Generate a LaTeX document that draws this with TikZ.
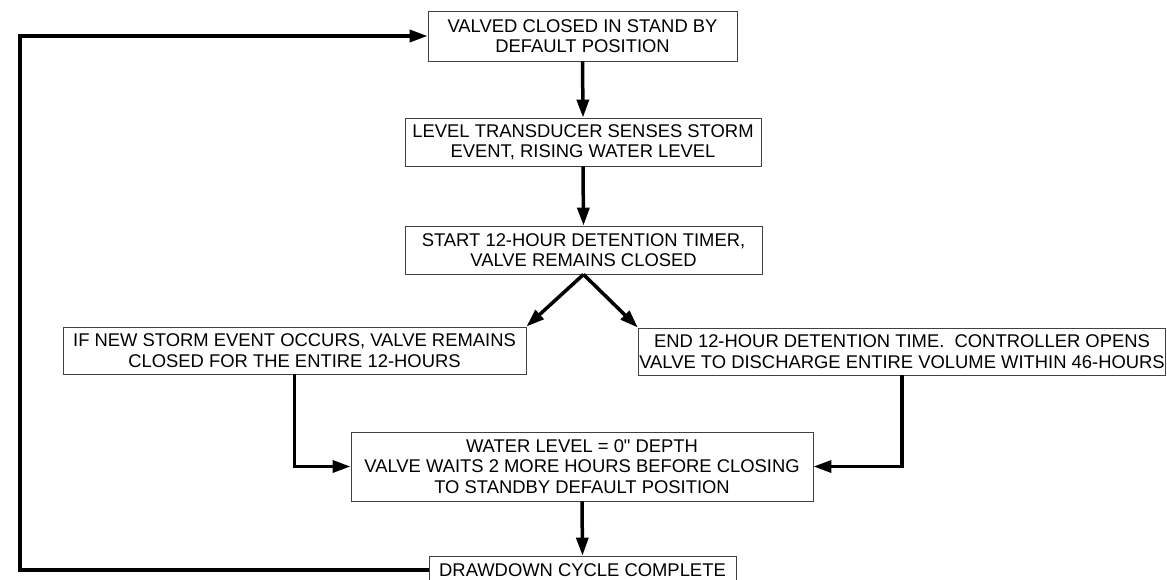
\documentclass[tikz,border=0pt]{standalone}
\usepackage{fontspec}
\newfontfamily\diagfont{Liberation Sans}
\usetikzlibrary{arrows.meta}
\tikzset{
  flowbox/.style={draw=black!75, line width=0.9pt, rectangle, align=center, inner sep=1pt,
    font=\diagfont\fontsize{18.4}{20.5}\selectfont, text=black},
  conn/.style={line width=3.5pt, -{Triangle[length=18pt,width=12pt]}, line join=miter}
}
\begin{document}
\begin{tikzpicture}[x=1pt,y=-1pt]
\useasboundingbox (0,0) rectangle (1167,579);
\clip (0,0) rectangle (1167,579);
\node[flowbox, minimum width=309pt, minimum height=50pt] (b1) at (582.5,36) {VALVED CLOSED IN STAND BY\\DEFAULT POSITION};
\node[flowbox, minimum width=356pt, minimum height=48pt] (b2) at (583,142) {LEVEL TRANSDUCER SENSES STORM\\EVENT, RISING WATER LEVEL};
\node[flowbox, minimum width=357pt, minimum height=48pt] (b3) at (583.5,250) {START 12-HOUR DETENTION TIMER,\\VALVE REMAINS CLOSED};
\node[flowbox, minimum width=463pt, minimum height=47pt] (b4) at (294.5,350.5) {IF NEW STORM EVENT OCCURS, VALVE REMAINS\\CLOSED FOR THE ENTIRE 12-HOURS};
\node[flowbox, minimum width=526pt, minimum height=47pt] (b5) at (902,351.5) {END 12-HOUR DETENTION TIME.\ \ CONTROLLER OPENS\\VALVE TO DISCHARGE ENTIRE VOLUME WITHIN 46-HOURS};
\node[flowbox, minimum width=462pt, minimum height=69pt] (b6) at (582,466.5) {WATER LEVEL = 0" DEPTH\\VALVE WAITS 2 MORE HOURS BEFORE CLOSING\\TO STANDBY DEFAULT POSITION};
\node[flowbox, minimum width=307pt, minimum height=28pt] (b7) at (582.5,570) {DRAWDOWN CYCLE COMPLETE};
\coordinate (lt) at (20,36);
\draw[conn] (b1.south) -- (b2.north);
\draw[conn] (b2.south) -- (b3.north);
\draw[conn] (b3.south) -- (b4.north east);
\draw[conn] (b3.south) -- (b5.north west);
\draw[conn] (b4.south) |- (b6.west);
\draw[conn] (b5.south) |- (b6.east);
\draw[conn] (b6.south) -- (b7.north);
\draw[conn] (b7.west) -| (lt) -- (b1.west);
\end{tikzpicture}
\end{document}
